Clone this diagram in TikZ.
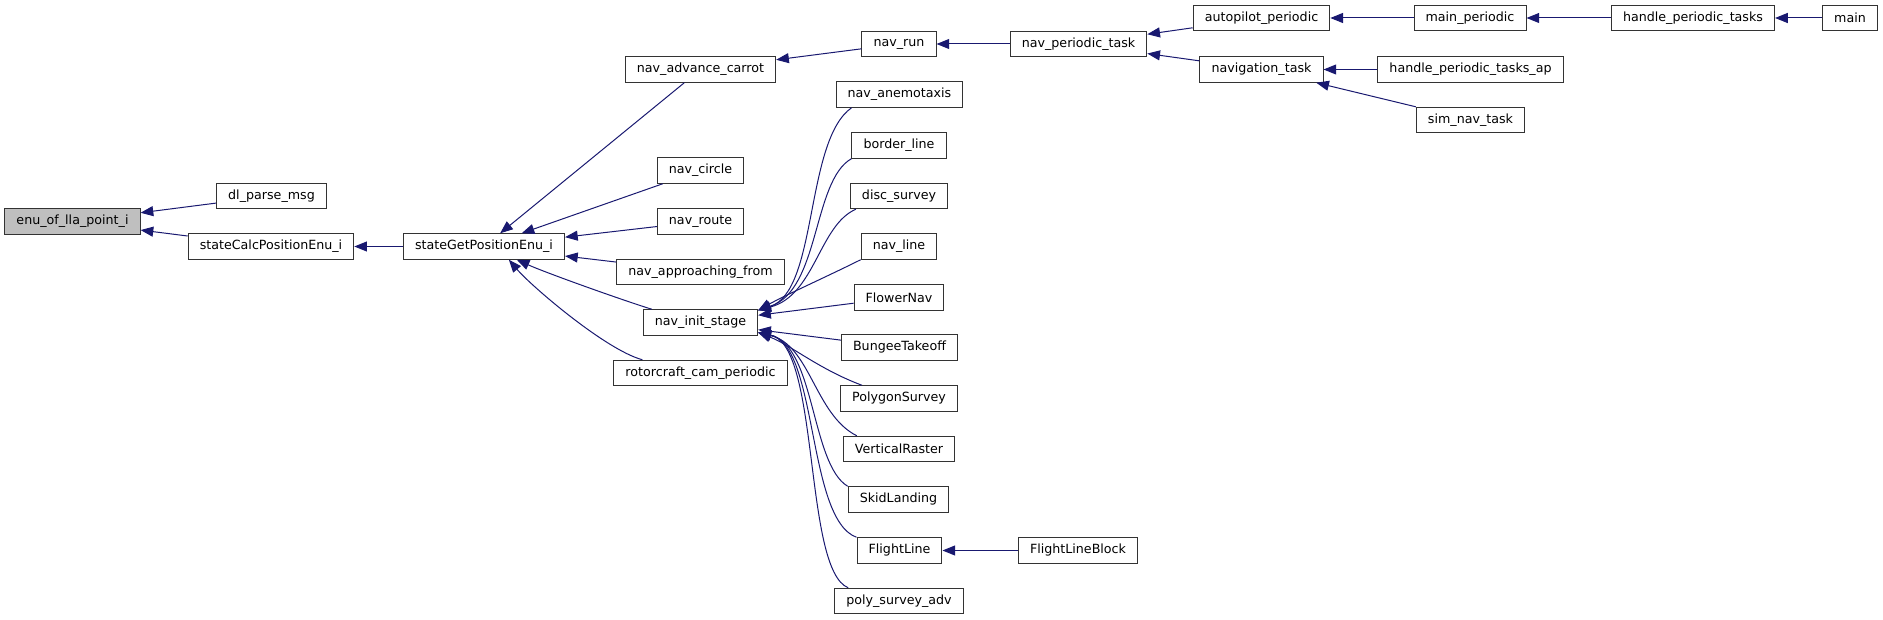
\documentclass[tikz,border=0pt]{standalone}
\usepackage{fontspec}
\setmainfont{DejaVu Sans}
\usetikzlibrary{arrows.meta}
\definecolor{edgeblue}{RGB}{25,25,112}
\definecolor{boxgray}{RGB}{191,191,191}
\begin{document}
\begin{tikzpicture}[x=0.75pt,y=-0.75pt,font=\fontsize{9.5}{11}\selectfont,
  fn/.style={draw=black!80,line width=0.75pt,inner xsep=8.7pt,inner ysep=0pt,minimum height=19.1pt},
  calls/.style={draw=edgeblue,line width=0.75pt,-{Triangle[length=9.5pt,width=7.5pt]}}]
\useasboundingbox (0,0) rectangle (1883,620);
\node[fn,fill=boxgray] (enu) at (72.5,221.5) {enu\_of\_lla\_point\_i};
\node[fn] (dlparse) at (271.5,196) {dl\_parse\_msg}; \node[fn] (calcpos) at (271,246.5) {stateCalcPositionEnu\_i};
\node[fn] (getpos) at (484,246.5) {stateGetPositionEnu\_i};
\node[fn] (carrot) at (700.5,69.5) {nav\_advance\_carrot}; \node[fn] (circle) at (700.5,170.5) {nav\_circle};
\node[fn] (route) at (700.5,221.5) {nav\_route}; \node[fn] (approach) at (700.5,272) {nav\_approaching\_from};
\node[fn] (initstage) at (700.5,322.5) {nav\_init\_stage}; \node[fn] (camper) at (700.5,373) {rotorcraft\_cam\_periodic};
\node[fn] (navrun) at (899,44) {nav\_run}; \node[fn] (anemo) at (899.5,94.5) {nav\_anemotaxis};
\node[fn] (border) at (899,145.5) {border\_line}; \node[fn] (disc) at (899,196) {disc\_survey};
\node[fn] (navline) at (899,246.5) {nav\_line}; \node[fn] (flower) at (899,297.5) {FlowerNav};
\node[fn] (bungee) at (899.5,347.5) {BungeeTakeoff}; \node[fn] (polygon) at (899,398.5) {PolygonSurvey};
\node[fn] (raster) at (899,449) {VerticalRaster}; \node[fn] (skid) at (898.5,499.5) {SkidLanding};
\node[fn] (flightline) at (899.5,550.5) {FlightLine}; \node[fn] (polyadv) at (899,601) {poly\_survey\_adv};
\node[fn] (periodic) at (1078.5,44) {nav\_periodic\_task}; \node[fn] (flblock) at (1078,550.5) {FlightLineBlock};
\node[fn] (autopilot) at (1261.5,18) {autopilot\_periodic}; \node[fn] (navtask) at (1261.5,69.5) {navigation\_task};
\node[fn] (mainper) at (1470,18) {main\_periodic}; \node[fn] (ptasksap) at (1470.5,69.5) {handle\_periodic\_tasks\_ap};
\node[fn] (simnav) at (1470.5,120) {sim\_nav\_task};
\node[fn] (ptasks) at (1693,18) {handle\_periodic\_tasks}; \node[fn] (main) at (1850,18) {main};
\draw[calls] (dlparse) -- (enu); \draw[calls] (calcpos) -- (enu); \draw[calls] (getpos) -- (calcpos);
\draw[calls] (carrot) -- (getpos); \draw[calls] (circle) -- (getpos); \draw[calls] (route) -- (getpos);
\draw[calls] (approach) -- (getpos);
\draw[calls] (initstage.north west) ++(9,0) .. controls +(-32,-10) and +(29,13) .. (getpos.-22);
\draw[calls] (camper.north west) ++(29,0) .. controls +(-37,-10) and +(22,26) .. (getpos.-28);
\draw[calls] (navrun) -- (carrot); \draw[calls] (periodic) -- (navrun);
\draw[calls] (autopilot) -- (periodic); \draw[calls] (navtask) -- (periodic);
\draw[calls] (mainper) -- (autopilot); \draw[calls] (ptasks) -- (mainper); \draw[calls] (main) -- (ptasks);
\draw[calls] (ptasksap) -- (navtask); \draw[calls] (simnav) -- (navtask);
\draw[calls] (anemo.south west) ++(16,0) .. controls +(-47,33) and +(60,-19) .. (initstage.12);
\draw[calls] (border.south west) .. controls +(-39,22) and +(62,-20) .. (initstage.12);
\draw[calls] (disc.south west) ++(6,0) .. controls +(-37,16) and +(57,-15) .. (initstage.12);
\draw[calls] (navline.south west) .. controls +(-32,16) and +(27,-15) .. (initstage.12);
\draw[calls] (flower) -- (initstage); \draw[calls] (bungee) -- (initstage);
\draw[calls] (polygon.north west) ++(22,0) .. controls +(-43,-16) and +(32,12) .. (initstage.-10);
\draw[calls] (raster.north west) ++(14,0) .. controls +(-42,-21) and +(52,12) .. (initstage.-10);
\draw[calls] (skid.north west) .. controls +(-37,-22) and +(57,12) .. (initstage.-10);
\draw[calls] (flightline.north west) .. controls +(-50,-18) and +(60,12) .. (initstage.-10);
\draw[calls] (polyadv.north west) ++(14,0) .. controls +(-45,-18) and +(62,12) .. (initstage.-10);
\draw[calls] (flblock) -- (flightline);
\end{tikzpicture}
\end{document}
